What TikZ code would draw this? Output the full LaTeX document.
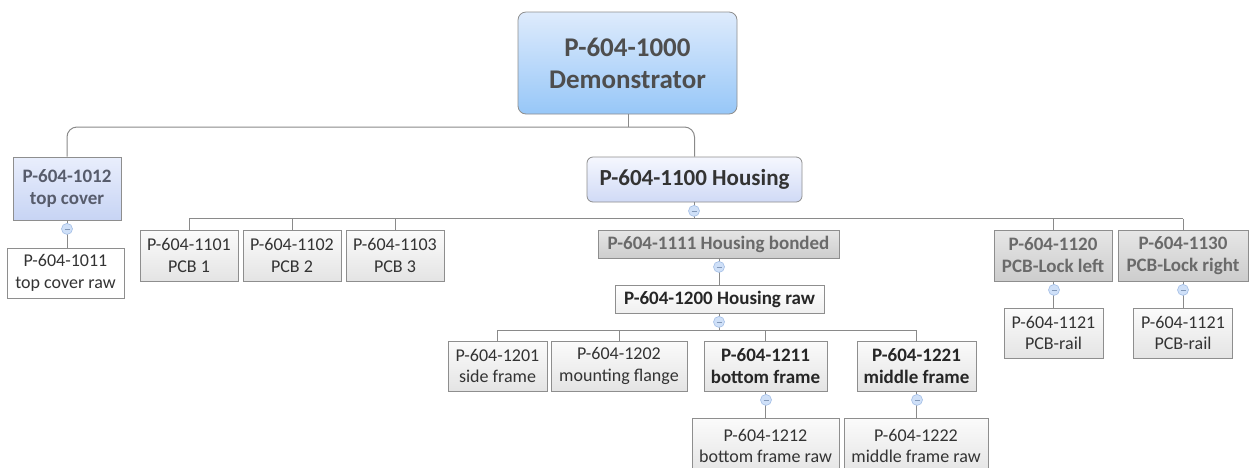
\documentclass[tikz,border=0pt]{standalone}
\usepackage{fontspec}
\setmainfont{Carlito}
\usetikzlibrary{positioning}
\definecolor{linegray}{HTML}{8A8A8A}
\definecolor{boxgray}{HTML}{8E8E8E}
\definecolor{roottop}{HTML}{DEEBFC}
\definecolor{rootbot}{HTML}{97C7F8}
\definecolor{bluetop}{HTML}{F5F7FE}
\definecolor{bluebot}{HTML}{D0DAF6}
\definecolor{covertop}{HTML}{E9EEFC}
\definecolor{coverbot}{HTML}{C7D4F4}
\definecolor{leaftop}{HTML}{FBFBFB}
\definecolor{leafbot}{HTML}{E4E4E4}
\definecolor{greytop}{HTML}{E6E6E6}
\definecolor{greybot}{HTML}{CDCDCD}
\definecolor{foldfill}{HTML}{CFE0F8}
\definecolor{folddraw}{HTML}{A3BEE6}
\definecolor{txtdark}{HTML}{333333}
\definecolor{txtroot}{HTML}{4E4E4E}
\definecolor{txtgrey}{HTML}{6A6A6A}
\definecolor{txtblue}{HTML}{575C6C}

\begin{document}
\begin{tikzpicture}[x=1pt,y=-1pt,
    conn/.style={draw=linegray,line width=1pt},
    box/.style={draw=boxgray,line width=0.8pt,align=center,inner sep=2pt,
      text=txtdark,font=\fontsize{18}{21.5}\selectfont},
    leaf/.style={box,top color=leaftop,bottom color=leafbot},
    bleaf/.style={leaf,text=black!85,font=\fontsize{19}{22}\selectfont\bfseries},
    grey/.style={box,top color=greytop,bottom color=greybot,text=txtgrey,
      font=\fontsize{19}{22}\selectfont\bfseries},
    fold/.style={circle,minimum size=11pt,inner sep=0pt,fill=foldfill,draw=folddraw,
      line width=0.6pt,path picture={\draw[folddraw!80!black,line width=0.7pt]
        ([xshift=-2.5pt]path picture bounding box.center) --
        ([xshift=2.5pt]path picture bounding box.center);}}]

  \clip (0,0) rectangle (1252,467);
  \fill[white] (0,0) rectangle (1252,467);

  \node[box,rounded corners=8pt,top color=roottop,bottom color=rootbot,text=txtroot,
    minimum width=219pt,minimum height=102pt,font=\fontsize{27}{32}\selectfont\bfseries]
    (root) at (627.5,63) {P-604-1000\\Demonstrator};

  \node[box,rounded corners=6pt,top color=bluetop,bottom color=bluebot,
    minimum width=215pt,minimum height=45pt,font=\fontsize{23}{26}\selectfont\bfseries]
    (housing) at (694.5,179.5) {P-604-1100 Housing};
  \node[box,top color=covertop,bottom color=coverbot,text=txtblue,
    minimum width=108pt,minimum height=63pt,font=\fontsize{19}{21.5}\selectfont\bfseries]
    (topcover) at (67,188.5) {P-604-1012\\top cover};
  \node[box,fill=white,minimum width=117pt,minimum height=50pt]
    (topcoverraw) at (65.5,273) {P-604-1011\\top cover raw};

  \node[leaf,minimum width=98pt,minimum height=51pt] (pcb1) at (189,255.5) {P-604-1101\\PCB 1};
  \node[leaf,minimum width=98pt,minimum height=51pt] (pcb2) at (292,255.5) {P-604-1102\\PCB 2};
  \node[leaf,minimum width=98pt,minimum height=51pt] (pcb3) at (395,255.5) {P-604-1103\\PCB 3};

  \node[grey,minimum width=241pt,minimum height=28pt] (bonded) at (718.5,244) {P-604-1111 Housing bonded};
  \node[bleaf,top color=white,bottom color=leaftop!50!leafbot,minimum width=209pt,minimum height=28pt]
    (raw) at (719.5,299) {P-604-1200 Housing raw};

  \node[grey,minimum width=118pt,minimum height=51pt] (lockl) at (1053,255.5) {P-604-1120\\PCB-Lock left};
  \node[grey,minimum width=130pt,minimum height=51pt] (lockr) at (1183,255.5) {P-604-1130\\PCB-Lock right};
  \node[leaf,minimum width=99pt,minimum height=50pt] (raill) at (1053.5,333) {P-604-1121\\PCB-rail};
  \node[leaf,minimum width=99pt,minimum height=50pt] (railr) at (1183,333) {P-604-1121\\PCB-rail};

  \node[leaf,minimum width=99pt,minimum height=50pt] (side) at (497.5,366) {P-604-1201\\side frame};
  \node[leaf,minimum width=136pt,minimum height=50pt] (flange) at (619,366) {P-604-1202\\mounting flange};
  \node[bleaf,minimum width=123pt,minimum height=50pt] (bottom) at (765.5,366) {P-604-1211\\bottom frame};
  \node[bleaf,minimum width=119pt,minimum height=50pt] (middle) at (916.5,366) {P-604-1221\\middle frame};
  \node[leaf,minimum width=147pt,minimum height=56pt] (bottomraw) at (765.5,446) {P-604-1212\\bottom frame raw};
  \node[leaf,minimum width=144pt,minimum height=56pt] (middleraw) at (916,446) {P-604-1222\\middle frame raw};

  % buses
  \coordinate (rootbus) at (628,127);
  \coordinate (hbus) at (694,218.5);
  \coordinate (rbus) at (719,330);

  \draw[conn] (root.south -| rootbus) -- (rootbus);
  \draw[conn,rounded corners=10pt] (topcover.north) |- (rootbus) -| (housing.north);

  \draw[conn] (housing.south -| hbus) -- (hbus);
  \draw[conn] (pcb1.north |- hbus) -- (lockr.north |- hbus);
  \foreach \n in {pcb1,pcb2,pcb3,lockl,lockr}
    \draw[conn] (\n.north) -- (\n.north |- hbus);
  \draw[conn] (bonded.north -| rbus) -- (bonded.north -| rbus |- hbus);

  \draw[conn] (raw.south -| rbus) -- (rbus);
  \draw[conn] (side.north |- rbus) -- (middle.north |- rbus);
  \foreach \n in {side,flange,bottom,middle}
    \draw[conn] (\n.north) -- (\n.north |- rbus);

  \draw[conn] (topcover.south) -- (topcover.south |- topcoverraw.north);
  \draw[conn] (bonded.south -| rbus) -- (raw.north -| rbus);
  \draw[conn] (lockl.south -| raill.north) -- (raill.north);
  \draw[conn] (lockr.south) -- (railr.north);
  \draw[conn] (bottom.south) -- (bottom.south |- bottomraw.north);
  \draw[conn] (middle.south) -- (middle.south |- middleraw.north);

  % fold markers
  \foreach \n/\xx in {topcover/67,housing/694,bonded/719,raw/719,lockl/1054,lockr/1183,bottom/766,middle/917}
    \node[fold] (fold-\n) at ([yshift=-8.5pt]\n.south -| \xx,0) {};
\end{tikzpicture}
\end{document}
